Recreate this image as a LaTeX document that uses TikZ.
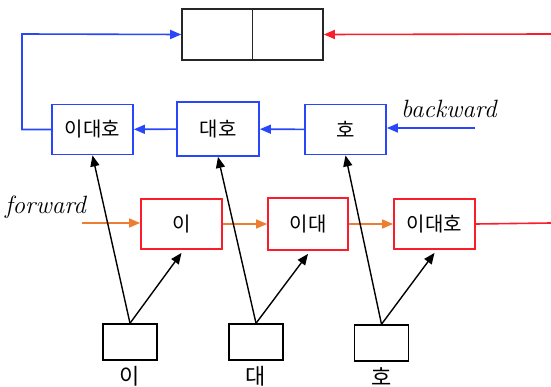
\documentclass[tikz,border=0pt]{standalone}
\usepackage{fontspec}
\newfontfamily\kor{Noto Sans CJK KR}
\usetikzlibrary{arrows.meta}

\definecolor{bwblue}{RGB}{40,70,250}
\definecolor{fwred}{RGB}{250,30,45}
\definecolor{fworange}{RGB}{237,125,49}

\tikzset{
  cell/.style={draw, line width=1.8pt, minimum width=81pt, minimum height=50pt, inner sep=0pt, font=\kor\fontsize{20}{20}\selectfont},
  bwcell/.style={cell, draw=bwblue},
  fwcell/.style={cell, draw=fwred},
  incell/.style={draw, line width=1.5pt, minimum width=54pt, minimum height=36pt, inner sep=0pt},
  halfcell/.style={draw=black!85, line width=1.6pt, minimum width=70.5pt, minimum height=51pt, inner sep=0pt},
  dirlabel/.style={font=\itshape\fontsize{25}{25}\selectfont, inner sep=0pt},
  charlabel/.style={font=\kor\fontsize{22}{22}\selectfont, anchor=south, inner sep=0pt},
  link/.style={line width=1.6pt, ->},
}

\begin{document}
\begin{tikzpicture}[x=1pt, y=-1pt, >={Triangle[length=11pt, width=9pt]}]
	\useasboundingbox (0,0) rectangle (551,387);
	% output pair on top
	\node[halfcell] (outL) at (217.25,34.5) {};
	\node[halfcell] (outR) at (287.75,34.5) {};
	% backward cells
	\node[bwcell] (bw1) at (92.5,129.5) {이대호};
	\node[bwcell, minimum width=82pt, minimum height=54pt] (bw2) at (218,129) {대호};
	\node[bwcell] (bw3) at (345.5,129.5) {호};
	% forward cells
	\node[fwcell] (fw1) at (181.5,224) {이};
	\node[fwcell, minimum width=80pt, minimum height=52pt] (fw2) at (308,224) {이대};
	\node[fwcell] (fw3) at (434.5,224) {이대호};
	% inputs
	\node[incell] (in1) at (130,342) {};
	\node[incell] (in2) at (256,342) {};
	\node[incell] (in3) at (381.5,343) {};
	\node[charlabel] (ch1) at (130,386) {이};
	\node[charlabel] (ch2) at (256,386) {대};
	\node[charlabel] (ch3) at (382,386) {호};
	\node[dirlabel, anchor=base west] (bwtext) at (401,118) {backward};
	\node[dirlabel, anchor=base west] (fwtext) at (5,214) {forward};
	\coordinate (bwin) at (475,128);
	\coordinate (fwin) at (82,223);
	\coordinate (fwend) at (551,223);
	\coordinate (topend) at (551,34);
	\coordinate (corner) at (22,34);

	% backward pass
	\draw[bwblue, link] (bwin) -- (bw3.east |- bwin);
	\draw[bwblue, link] (bw3) -- (bw2);
	\draw[bwblue, link] (bw2) -- (bw1);
	\draw[bwblue, link] (bw1.west) -- (corner |- bw1.west) -- (corner) -- (outL.west);
	% forward pass
	\draw[fworange, link] (fwin) -- (fw1.west |- fwin);
	\draw[fworange, link] (fw1) -- (fw2);
	\draw[fworange, link] (fw2) -- (fw3);
	\draw[fwred, line width=1.6pt] (fw3.east) -- (fwend);
	\draw[fwred, link] (topend) -- (outR.east);
	% inputs feed both directions
	\foreach \i/\b/\f in {1/bw1/fw1, 2/bw2/fw2, 3/bw3/fw3} {
		\draw[link, line width=1.4pt] (in\i.north) -- (\b.south);
		\draw[link, line width=1.4pt] (in\i.north) -- ([yshift=-3pt]\f.south);
	}
\end{tikzpicture}
\end{document}
